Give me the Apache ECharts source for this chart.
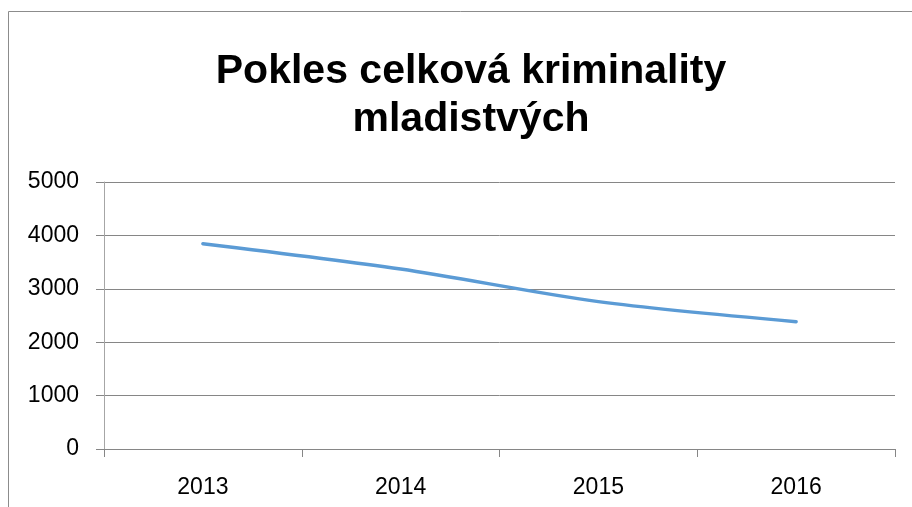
<!DOCTYPE html>
<html>
<head>
<meta charset="utf-8">
<script src="https://cdn.jsdelivr.net/npm/echarts@6/dist/echarts.min.js"></script>
<style>
  html, body { margin: 0; padding: 0; background: #fff; }
  #chart { width: 912px; height: 507px; }
</style>
</head>
<body>
<div id="chart"></div>
<script>
// data
var years = ["2013", "2014", "2015", "2016"];
var offenders = [3845, 3370, 2760, 2385];
var yTicks = { min: 0, max: 5000, step: 1000 };

var chart = echarts.init(document.getElementById("chart"));
chart.setOption({
  animation: false,
  // outer chart frame (only top and left edges are visible)
  graphic: [
    {
      type: "rect",
      shape: { x: 8.5, y: 11.5, width: 1000, height: 1000 },
      style: { fill: "none", stroke: "#8c8c8c", lineWidth: 1 },
      silent: true
    }
  ],
  title: {
    text: "Pokles celková kriminality\nmladistvých",
    left: 466,
    textAlign: "center",
    top: 43,
    textStyle: {
      fontFamily: "Liberation Sans",
      fontWeight: "bold",
      fontSize: 41,
      lineHeight: 48,
      color: "#000"
    }
  },
  grid: { left: 104, right: 17, top: 182, bottom: 58 },
  xAxis: {
    type: "category",
    data: years,
    boundaryGap: true,
    axisLine: { lineStyle: { color: "#868686", width: 1 } },
    axisTick: { show: true, length: 8, lineStyle: { color: "#868686" } },
    axisLabel: {
      margin: 27,
      fontFamily: "Liberation Sans",
      fontSize: 23,
      color: "#000"
    }
  },
  yAxis: {
    type: "value",
    min: yTicks.min,
    max: yTicks.max,
    interval: yTicks.step,
    axisLine: { show: true, lineStyle: { color: "#a6a6a6", width: 1 } },
    axisTick: { show: true, length: 8, lineStyle: { color: "#868686" } },
    splitLine: { lineStyle: { color: "#868686", width: 1 } },
    axisLabel: {
      margin: 25,
      fontFamily: "Liberation Sans",
      fontSize: 23,
      color: "#000",
      formatter: function (v) { return String(v); }
    }
  },
  series: [
    {
      name: "Kriminalita mladistvých",
      type: "line",
      data: offenders,
      smooth: 0.3,
      symbol: "none",
      lineStyle: { color: "#5b9bd5", width: 3.5, cap: "round" }
    }
  ]
});
</script>
</body>
</html>
